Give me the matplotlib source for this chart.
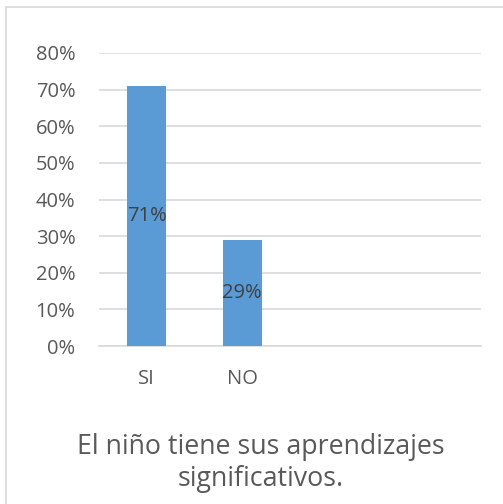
import matplotlib.pyplot as plt
from matplotlib.patches import Rectangle
from matplotlib.ticker import PercentFormatter

# --- Data ---
categories = ["SI", "NO"]
values = [0.71, 0.29]
value_labels = ["71%", "29%"]
title = "El niño tiene sus aprendizajes\nsignificativos."

BAR_COLOR = "#5B9BD5"
GRID_COLOR = "#D9D9D9"
TEXT_COLOR = "#595959"
FONT = "Open Sans"

plt.rcParams['font.family'] = [FONT, 'DejaVu Sans']

W, H = 503, 504
fig = plt.figure(figsize=(W / 100, H / 100), dpi=100)
ax = fig.add_axes([99 / W, (H - 346) / H, (481 - 99) / W, (346 - 53) / H])

x = range(len(categories))
bars = ax.bar(x, values, width=0.41, color=BAR_COLOR, zorder=3)
for rect, lab in zip(bars, value_labels):
    ax.text(rect.get_x() + rect.get_width() / 2, rect.get_height() / 2, lab,
            ha="center", va="center", fontsize=14.5, color="#404040", zorder=4)

# two empty category slots on the right, like the original sheet
ax.set_xlim(-0.5, 3.5)
ax.set_ylim(0, 0.8)
ax.set_yticks([i / 10 for i in range(9)])
ax.yaxis.set_major_formatter(PercentFormatter(1.0, decimals=0))
ax.set_xticks(list(x))
ax.set_xticklabels(categories)

ax.grid(axis="y", color=GRID_COLOR, linewidth=1.2, zorder=0)
for s in ["top", "right", "left"]:
    ax.spines[s].set_visible(False)
ax.spines["bottom"].set_color(GRID_COLOR)
ax.spines["bottom"].set_linewidth(1.2)
ax.tick_params(axis="both", length=0, labelsize=14.5, labelcolor=TEXT_COLOR)
ax.tick_params(axis="y", pad=17)
ax.tick_params(axis="x", pad=16.5)

fig.text(261 / W, 1 - 463 / H, title, ha="center", va="center",
         fontsize=19.3, color=TEXT_COLOR, linespacing=1.22)

# chart frame (only left and top edges fall inside the image)
fig.patches.append(Rectangle((6 / W, -0.1), 1.2, (H - 7) / H + 0.1,
                             transform=fig.transFigure, fill=False,
                             edgecolor=GRID_COLOR, linewidth=1.2))

fig.savefig("out.png", dpi=100)
